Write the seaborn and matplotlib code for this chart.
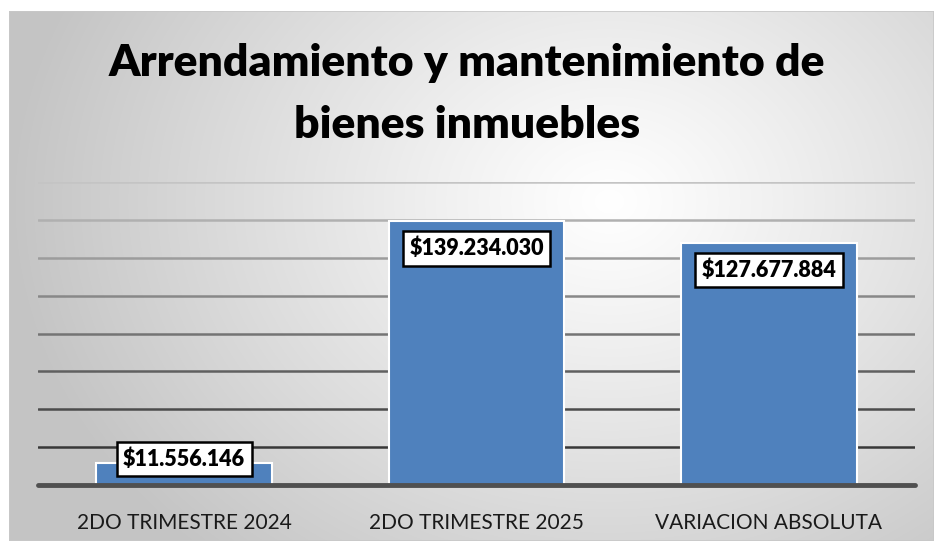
import numpy as np
import pandas as pd
import seaborn as sns
import matplotlib.pyplot as plt
from matplotlib.patches import Rectangle

# data
categories = ['2DO TRIMESTRE 2024', '2DO TRIMESTRE 2025', 'VARIACION ABSOLUTA']
values = [11556146, 139234030, 127677884]
labels = ['$11.556.146', '$139.234.030', '$127.677.884']
title = 'Arrendamiento y mantenimiento de\nbienes inmuebles'

df = pd.DataFrame({'cat': categories, 'val': values})

sns.set_theme(style='white')
plt.rcParams['font.family'] = ['Lato', 'DejaVu Sans']

W, H = 934, 541
fig = plt.figure(figsize=(W / 100, H / 100), dpi=100)

# radial gradient background in the chart box
bg = fig.add_axes([9 / W, 0, 1 - 9 / W, 1 - 11 / H], zorder=-10)
yy, xx = np.mgrid[0:530, 0:925]
cx, cy = 600, 190
r = np.sqrt(((xx - cx) / 1.0) ** 2 + ((yy - cy) / 0.8) ** 2)
g = 1.0 - 0.23 * np.clip(r / 600, 0, 1) ** 1.1
bg.imshow(np.dstack([g, g, g]), aspect='auto', extent=(0, 1, 0, 1), origin='upper')
bg.set_axis_off()
bg.add_patch(Rectangle((0, 0), 1, 1, transform=bg.transAxes, fill=False,
                       edgecolor='#c8c8c8', linewidth=1.2))

ax = fig.add_axes([38 / W, 1 - 485 / H, (915 - 38) / W, (485 - 182) / H])
ax.patch.set_alpha(0)

sns.barplot(data=df, x='cat', y='val', color='#4f81bd', width=0.6,
            edgecolor='white', linewidth=1.5, saturation=1, ax=ax, zorder=3)

ax.set_ylim(0, 160e6)
ax.set_xlim(-0.5, 2.5)

# gridlines, lighter towards the top
ticks = np.arange(20e6, 160e6 + 1, 20e6)
for i, t in enumerate(ticks):
    shade = 0.22 + 0.55 * (i / (len(ticks) - 1))
    ax.axhline(t, color=str(shade), linewidth=1.8, zorder=1)
ax.axhline(0, color='#505050', linewidth=3.5, zorder=4, clip_on=False)

ax.set_yticks([])
ax.set_xlabel('')
ax.set_ylabel('')
ax.tick_params(axis='x', length=0, pad=20, labelsize=15, labelcolor='#1a1a1a')
sns.despine(ax=ax, left=True, bottom=True)

# value labels in white boxes
for i, (v, lab) in enumerate(zip(values, labels)):
    bar_px = v / 160e6 * (485 - 182)
    off = -27 if bar_px > 60 else 4
    ax.annotate(lab, (i, v), xytext=(0, off * 0.72), textcoords='offset points',
                ha='center', va='center', fontsize=15.5, fontweight='heavy', color='black',
                bbox=dict(boxstyle='square,pad=0.3', fc='white', ec='black', lw=1.8),
                zorder=6)

fig.text(0.5, 1 - 94 / H, title, ha='center', va='center', fontsize=32,
         fontweight='heavy', color='black', linespacing=1.68)

fig.savefig('out.png', dpi=100)
